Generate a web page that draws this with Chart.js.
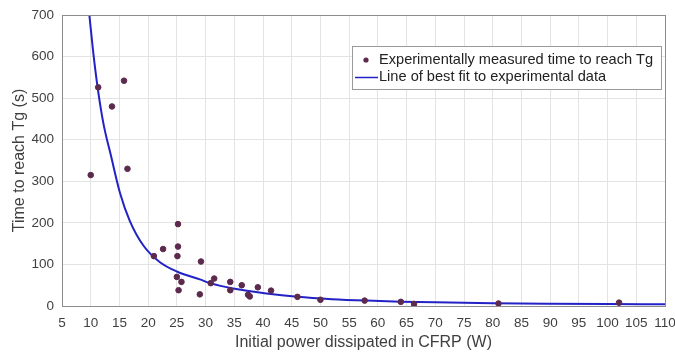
<!DOCTYPE html>
<html>
<head>
<meta charset="utf-8">
<script src="https://cdn.jsdelivr.net/npm/chart.js@4.4.1/dist/chart.umd.min.js"></script>
<style>
  html, body { margin: 0; padding: 0; background: #fff; }
  #wrap { width: 675px; height: 352px; position: relative; }
</style>
</head>
<body>
<div id="wrap"><canvas id="tgChart"></canvas></div>
<script>
// measured points (power in W, time in s)
const measuredPower = [10, 11.3, 13.7, 15.8, 16.4, 21, 22.6, 25.2, 25.2, 25.1, 25, 25.8, 25.3,
  29.2, 29, 30.9, 31.5, 34.3, 34.3, 36.3, 37.4, 37.7, 39.1, 41.4, 46, 50, 57.7, 64, 66.3, 81, 102];
const measuredTime = [315, 526, 480, 542, 330, 120, 137, 197, 143, 120, 70, 58, 38,
  107, 28, 55, 66, 58, 38, 50, 27, 23, 45, 37, 22, 15, 13, 10, 5, 6, 8];

// best fit line
const fitPower = [9.75, 10.4, 11.2, 12.2, 13.5, 15.1, 16.8, 19.2, 22, 25, 29, 30.8, 34.8, 40.6,
  46, 52, 58, 64, 70, 80, 90, 100, 110];
const fitTime = [702, 615, 526, 440, 363, 272, 205, 145, 106, 83, 64, 55, 42, 30,
  22, 16.5, 13, 10.5, 8.8, 6.8, 5.6, 4.8, 4.2];

const xTicks = [5, 10, 15, 20, 25, 30, 35, 40, 45, 50, 55, 60, 65, 70, 75, 80, 85, 90, 95, 100, 105, 110];
const yTicks = [0, 100, 200, 300, 400, 500, 600, 700];

const FONT = "'Liberation Sans', Arial, sans-serif";
const textColor = "#3f3f3f";
const gridColor = "#e3e3e3";
const axisColor = "#8c8c8c";

// box around plot + legend inside the axes
const boxPlugin = {
  id: "boxPlugin",
  afterDraw(chart) {
    const ctx = chart.ctx;
    const a = chart.chartArea;
    ctx.save();
    ctx.strokeStyle = axisColor;
    ctx.lineWidth = 1;
    ctx.strokeRect(Math.round(a.left) + 0.5, Math.round(a.top) + 0.5,
      Math.round(a.right - a.left), Math.round(a.bottom - a.top));

    // legend
    const ds = chart.data.datasets;
    const lx = 352, ly = 46, lw = 309, lh = 43;
    ctx.fillStyle = "#fff";
    ctx.fillRect(lx, ly, lw, lh);
    ctx.strokeStyle = "#9a9a9a";
    ctx.strokeRect(lx + 0.5, ly + 0.5, lw, lh);
    ctx.font = "14.6px " + FONT;
    ctx.textBaseline = "middle";
    // row 1: marker
    ctx.beginPath();
    ctx.arc(366, 60, 2.6, 0, Math.PI * 2);
    ctx.fillStyle = ds[0].backgroundColor;
    ctx.fill();
    ctx.fillStyle = "#222";
    ctx.fillText(ds[0].label, 379, 60);
    // row 2: line
    ctx.beginPath();
    ctx.moveTo(355, 77.5);
    ctx.lineTo(378, 77.5);
    ctx.strokeStyle = ds[1].borderColor;
    ctx.lineWidth = 1.5;
    ctx.stroke();
    ctx.fillText(ds[1].label, 379, 77);
    ctx.restore();
  }
};

const scatterData = measuredPower.map((x, i) => ({ x: x, y: measuredTime[i] }));
const fitData = fitPower.map((x, i) => ({ x: x, y: fitTime[i] }));

new Chart(document.getElementById("tgChart"), {
  type: "scatter",
  data: {
    datasets: [
      {
        label: "Experimentally measured time to reach Tg",
        data: scatterData,
        backgroundColor: "#5c2a4c",
        borderColor: "#5c2a4c",
        pointRadius: 2.8,
        showLine: false,
        order: 1
      },
      {
        label: "Line of best fit to experimental data",
        data: fitData,
        showLine: true,
        borderColor: "#2222c6",
        backgroundColor: "#2222c6",
        borderWidth: 2,
        pointRadius: 0,
        cubicInterpolationMode: "monotone",
        order: 2
      }
    ]
  },
  options: {
    responsive: true,
    maintainAspectRatio: false,
    animation: false,
    layout: { padding: { top: 15, right: 10, left: 0, bottom: 0 } },
    plugins: {
      legend: { display: false },
      tooltip: { enabled: false }
    },
    scales: {
      x: {
        type: "linear",
        min: 5,
        max: 110,
        afterBuildTicks: (scale) => { scale.ticks = xTicks.map(v => ({ value: v })); },
        afterFit: (scale) => { scale.height = 46; scale.paddingLeft = 0; scale.paddingRight = 0; },
        grid: { color: gridColor, drawTicks: false },
        border: { display: false },
        ticks: { color: textColor, font: { family: FONT, size: 13.5 }, padding: 9, maxRotation: 0, autoSkip: false },
        title: {
          display: true,
          text: "Initial power dissipated in CFRP (W)",
          color: textColor,
          font: { family: FONT, size: 16 },
          padding: { top: 1, bottom: 0 }
        }
      },
      y: {
        min: 0,
        max: 700,
        afterBuildTicks: (scale) => { scale.ticks = yTicks.map(v => ({ value: v })); },
        afterFit: (scale) => { scale.width = 62; scale.paddingTop = 0; scale.paddingBottom = 0; },
        grid: { color: gridColor, drawTicks: false },
        border: { display: false },
        ticks: { color: textColor, font: { family: FONT, size: 13.5 }, padding: 8 },
        title: {
          display: true,
          text: "Time to reach Tg (s)",
          color: textColor,
          font: { family: FONT, size: 16 },
          padding: { top: 10, bottom: 3 }
        }
      }
    }
  },
  plugins: [boxPlugin]
});
</script>
</body>
</html>
